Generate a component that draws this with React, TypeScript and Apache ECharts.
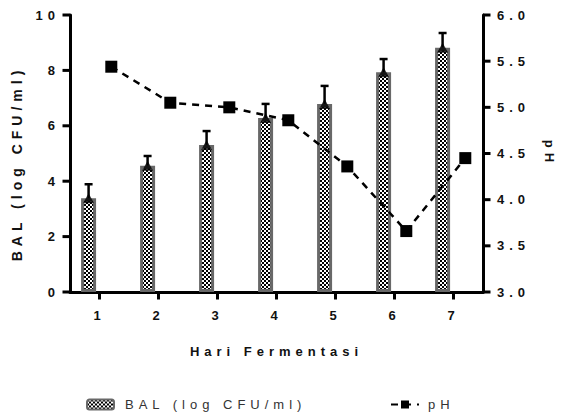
import React, { useEffect, useRef } from "react";
import * as echarts from "echarts";

const days = ["1", "2", "3", "4", "5", "6", "7"];
const dayNumbers = [1, 2, 3, 4, 5, 6, 7];
const balValues = [3.38, 4.56, 5.31, 6.28, 6.79, 7.93, 8.82];
const balErrors = [0.51, 0.35, 0.5, 0.51, 0.65, 0.48, 0.53];
const phValues = [5.44, 5.05, 5.0, 4.86, 4.36, 3.66, 4.45];
const leftTicks = [0, 2, 4, 6, 8, 10];
const rightTicks = [3.0, 3.5, 4.0, 4.5, 5.0, 5.5, 6.0];
const balName = "BAL (log CFU/ml)";
const phName = "pH";
const xName = "Hari Fermentasi";

const BAR_OFFSET = -0.185;
const PH_OFFSET = 0.2;
const X_MIN = 0.5;
const X_MAX = 7.5;
const TICK_LEN = 6;
const FONT = "'Liberation Sans', Arial, sans-serif";

function makeChecker(): HTMLCanvasElement {
  const c = document.createElement("canvas");
  c.width = 4;
  c.height = 4;
  const ctx = c.getContext("2d")!;
  ctx.fillStyle = "#ffffff";
  ctx.fillRect(0, 0, 4, 4);
  ctx.fillStyle = "#000000";
  ctx.fillRect(0, 0, 2, 2);
  ctx.fillRect(2, 2, 2, 2);
  return c;
}

function tickSeries(name: string, yAxisIndex: number, data: number[][], dir: "left" | "right" | "down") {
  return {
    name,
    type: "custom",
    xAxisIndex: 1,
    yAxisIndex,
    data,
    encode: { x: 0, y: 1 },
    clip: false,
    silent: true,
    z: 6,
    renderItem: (params: any, api: any) => {
      const p = api.coord([api.value(0), api.value(1)]);
      let x2 = p[0];
      let y2 = p[1];
      if (dir === "left") x2 -= TICK_LEN + 1.5;
      else if (dir === "right") x2 += TICK_LEN + 1.5;
      else y2 += TICK_LEN + 1.5;
      return {
        type: "line",
        shape: { x1: p[0], y1: p[1], x2, y2 },
        style: { stroke: "#000", lineWidth: 3 },
      };
    },
  };
}

export default function App() {
  const ref = useRef<HTMLDivElement>(null);
  useEffect(() => {
    if (!ref.current) return;
    const chart = echarts.init(ref.current, null, { renderer: "svg" });
    const checker = makeChecker();
    const pattern: any = { image: checker, repeat: "repeat", imageWidth: 4, imageHeight: 4 };
    const barData = dayNumbers.map((d, i) => [d + BAR_OFFSET, balValues[i]]);
    const errData = dayNumbers.map((d, i) => [d + BAR_OFFSET, balValues[i], balErrors[i]]);
    const phData = dayNumbers.map((d, i) => [d + PH_OFFSET, phValues[i]]);
    const axisLine = { show: true, lineStyle: { color: "#000", width: 3 } };
    const tickLabel = { color: "#111", fontWeight: "bold", fontSize: 13, fontFamily: FONT };
    chart.setOption({
      animation: false,
      textStyle: { fontFamily: FONT },
      grid: { left: 70, right: 76, top: 15, bottom: 124 },
      xAxis: [
        {
          type: "category",
          data: days,
          boundaryGap: true,
          axisLine: { ...axisLine },
          axisTick: { show: false },
          splitLine: { show: false },
          axisLabel: { ...tickLabel, margin: 17 },
          name: xName,
          nameLocation: "middle",
          nameGap: 53,
          nameTextStyle: { color: "#111", fontWeight: "bold", fontSize: 13, fontFamily: FONT },
        },
        { type: "value", min: X_MIN, max: X_MAX, show: false },
      ],
      yAxis: [
        {
          type: "value",
          min: 0,
          max: 10,
          interval: 2,
          axisLine: { ...axisLine },
          axisTick: { show: false },
          splitLine: { show: false },
          axisLabel: { ...tickLabel, margin: 10 },
          name: balName,
          nameLocation: "middle",
          nameGap: 46,
          nameTextStyle: { color: "#111", fontWeight: "bold", fontSize: 14, fontFamily: FONT, padding: [0, 20, 0, 0] },
        },
        {
          type: "value",
          position: "right",
          min: 3,
          max: 6,
          interval: 0.5,
          axisLine: { ...axisLine },
          axisTick: { show: false },
          splitLine: { show: false },
          axisLabel: {
            ...tickLabel,
            margin: 14,
            formatter: (v: number) => v.toFixed(1),
          },
          name: phName,
          nameLocation: "middle",
          nameRotate: -90,
          nameGap: 60,
          nameTextStyle: { color: "#111", fontWeight: "bold", fontSize: 13, fontFamily: FONT },
        },
      ],
      legend: [
        {
          left: 81,
          top: 393,
          data: [balName],
          itemWidth: 27,
          itemHeight: 10,
          itemStyle: { borderWidth: 2 },
          textStyle: { color: "#333", fontSize: 13, fontFamily: FONT, padding: [0, 0, 0, 6] },
        },
        {
          left: 385,
          top: 393,
          data: [phName],
          itemWidth: 28,
          itemHeight: 10,
          textStyle: { color: "#333", fontSize: 13, fontFamily: FONT, padding: [0, 0, 0, 4] },
        },
      ],
      series: [
        {
          name: balName,
          type: "bar",
          xAxisIndex: 1,
          yAxisIndex: 0,
          data: barData,
          barWidth: 15,
          itemStyle: { color: pattern, borderColor: "#686868", borderWidth: 3 },
          z: 2,
        },
        {
          name: "err",
          type: "custom",
          xAxisIndex: 1,
          yAxisIndex: 0,
          data: errData,
          encode: { x: 0, y: 1 },
          z: 3,
          renderItem: (params: any, api: any) => {
            const x = api.value(0);
            const y = api.value(1);
            const e = api.value(2);
            const p0 = api.coord([x, y]);
            const p1 = api.coord([x, y + e]);
            return {
              type: "group",
              children: [
                { type: "line", shape: { x1: p0[0], y1: p0[1], x2: p1[0], y2: p1[1] }, style: { stroke: "#000", lineWidth: 2.5 } },
                { type: "line", shape: { x1: p1[0] - 4, y1: p1[1], x2: p1[0] + 4, y2: p1[1] }, style: { stroke: "#000", lineWidth: 2.5 } },
              ],
            };
          },
        },
        {
          name: "tri",
          type: "scatter",
          xAxisIndex: 1,
          yAxisIndex: 0,
          data: barData,
          symbol: "triangle",
          symbolSize: [11, 10],
          itemStyle: { color: "#000" },
          z: 4,
        },
        {
          name: phName,
          type: "line",
          xAxisIndex: 1,
          yAxisIndex: 1,
          data: phData,
          symbol: "rect",
          symbolSize: 12,
          itemStyle: { color: "#000" },
          lineStyle: { color: "#000", width: 2.5, type: [7, 6] },
          z: 5,
        },
        tickSeries("ticksLeft", 0, leftTicks.map((v) => [X_MIN, v]), "left"),
        tickSeries("ticksRight", 1, rightTicks.map((v) => [X_MAX, v]), "right"),
        tickSeries("ticksX", 0, dayNumbers.map((d) => [d, 0]), "down"),
      ],
    });
    return () => chart.dispose();
  }, []);
  return (
    <>
      <style>{"#chartbox text{letter-spacing:5px}"}</style>
      <div
        id="chartbox"
        ref={ref}
        style={{ position: "fixed", left: 0, top: 0, width: 564, height: 416, background: "#fff" }}
      />
    </>
  );
}
